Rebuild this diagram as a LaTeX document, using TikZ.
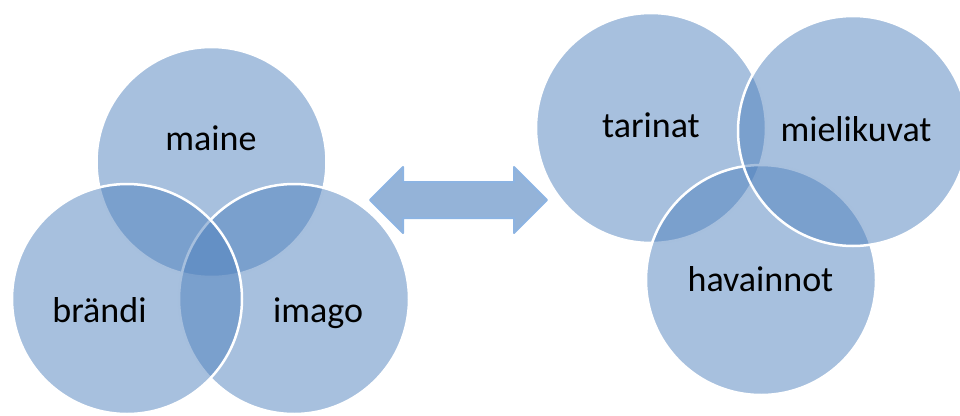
\documentclass[tikz,border=0pt]{standalone}
\usepackage{fontspec}
\setmainfont{Carlito}
\begin{document}
\begin{tikzpicture}[x=1pt,y=-1pt,
  venn/.style={circle,draw=white,line width=2.5pt,fill={rgb,255:red,79;green,129;blue,189},fill opacity=0.5,minimum size=230pt,inner sep=0pt},
  lbl/.style={anchor=base,font=\fontsize{36}{43}\selectfont,text=black,inner sep=0pt}]
\useasboundingbox (0,0) rectangle (960,415);
\clip (0,0) rectangle (960,415);
% left group
\node[venn] (maine) at (211.5,162) {};
\node[venn] (imago) at (294,299) {};
\node[venn] (brandi) at (127,299) {};
\node[lbl] (tmaine) at (211,150) {maine};
\node[lbl] (tbrandi) at (99.5,322) {brändi};
\node[lbl] (timago) at (318,322) {imago};
% right group
\node[venn] (tarinat) at (651,128) {};
\node[venn] (havainnot) at (761,280) {};
\node[venn] (mielikuvat) at (853,131) {};
\node[lbl] (ttarinat) at (651,137) {tarinat};
\node[lbl] (tmielikuvat) at (856,141) {mielikuvat};
\node[lbl] (thavainnot) at (760.5,291) {havainnot};
% double arrow
\draw[draw={rgb,255:red,141;green,180;blue,226},fill={rgb,255:red,148;green,179;blue,216},line width=2pt,line join=round]
  (370,200) -- (403,167) -- (403,182) -- (514,182) -- (514,167) -- (547,200)
  -- (514,233) -- (514,218) -- (403,218) -- (403,233) -- cycle;
\end{tikzpicture}
\end{document}
